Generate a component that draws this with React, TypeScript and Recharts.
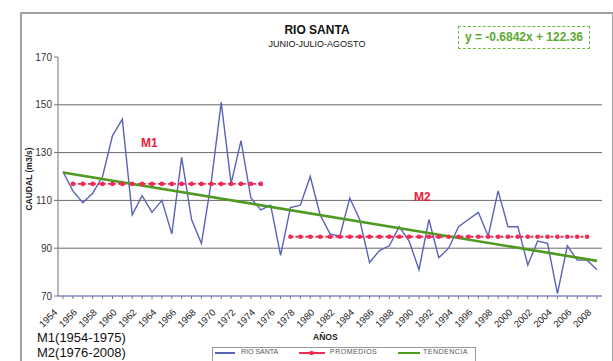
import React from 'react';
import { LineChart, Line, XAxis, YAxis, ReferenceLine } from 'recharts';

// años (eje x)
const years = [
  1954, 1955, 1956, 1957, 1958, 1959, 1960, 1961, 1962, 1963, 1964,
  1965, 1966, 1967, 1968, 1969, 1970, 1971, 1972, 1973, 1974, 1975,
  1976, 1977, 1978, 1979, 1980, 1981, 1982, 1983, 1984, 1985, 1986,
  1987, 1988, 1989, 1990, 1991, 1992, 1993, 1994, 1995, 1996, 1997,
  1998, 1999, 2000, 2001, 2002, 2003, 2004, 2005, 2006, 2007, 2008
];

// caudal medio jun-jul-ago (m3/s)
const caudal = [
  122, 114, 109, 113, 120, 137, 144, 104, 112, 105, 110,
  96, 128, 102, 92, 118, 151, 117, 135, 111, 106, 108,
  87, 107, 108, 120, 104, 96, 95, 111, 102, 84, 89,
  91, 99, 93, 81, 102, 86, 90, 99, 102, 105, 95,
  114, 99, 99, 83, 93, 92, 71, 91, 85, 85, 81
];

// promedios: [desde, hasta, valor]
const promedioM1 = [1955, 1974, 116.9];
const promedioM2 = [1977, 2007, 94.8];

// tendencia: extremos de la recta
const tendencia = [121.7, 84.7];

const yTicks = [70, 90, 110, 130, 150, 170];
const gridLines = [90, 110, 130, 150];

const data = years.map((year, i) => ({
  year,
  caudal: caudal[i],
  m1: year >= promedioM1[0] && year <= promedioM1[1] ? promedioM1[2] : null,
  m2: year >= promedioM2[0] && year <= promedioM2[1] ? promedioM2[2] : null,
  trend: i === 0 ? tendencia[0] : i === years.length - 1 ? tendencia[1] : null
}));

const FONT = '"Liberation Sans", Arial, sans-serif';

const renderYearTick = (props: any) => {
  const { x, y, payload } = props;
  if (Number(payload.value) % 2 !== 0) return <g />;
  return (
    <g transform={`translate(${x - 5},${y + 12})`}>
      <text
        x={0}
        y={0}
        transform="rotate(-45)"
        textAnchor="end"
        fontSize={9.5}
        fontFamily={FONT}
        fill="#222"
      >
        {payload.value}
      </text>
    </g>
  );
};

const RedDot = (props: any) => {
  const { cx, cy, value } = props;
  if (value == null) return null;
  return <circle cx={cx} cy={cy} r={2.3} fill="#ee2a55" />;
};

export default function App() {
  return (
    <div
      style={{
        position: 'absolute',
        left: 0,
        top: 0,
        width: 613,
        height: 361,
        background: '#fff',
        overflow: 'hidden',
        fontFamily: FONT
      }}
    >
      <div
        style={{
          position: 'absolute',
          left: 20,
          top: 12,
          width: 590,
          height: 370,
          border: '2px solid #a0a0a0'
        }}
      />
      <div style={{ position: 'absolute', left: 0, top: 0 }}>
        <LineChart
          width={613}
          height={361}
          data={data}
          margin={{ top: 57, right: 11, bottom: 25, left: 28 }}
        >
          {gridLines.map((v) => (
            <ReferenceLine key={v} y={v} stroke="#6a6a6a" strokeWidth={1} />
          ))}
          <XAxis
            dataKey="year"
            type="category"
            interval={0}
            height={40}
            padding={{ left: 5, right: 5 }}
            tick={renderYearTick}
            tickSize={3}
            axisLine={{ stroke: '#8088c8', strokeWidth: 1.5 }}
            tickLine={{ stroke: '#777' }}
          />
          <YAxis
            width={30}
            domain={[70, 170]}
            ticks={yTicks}
            interval={0}
            tickSize={4}
            tick={{ fontSize: 10, fill: '#333', fontFamily: FONT }}
            axisLine={{ stroke: '#777' }}
            tickLine={{ stroke: '#777' }}
          />
          <Line
            dataKey="caudal"
            stroke="#5a62b8"
            strokeWidth={1.4}
            dot={false}
            isAnimationActive={false}
          />
          <Line
            dataKey="m1"
            stroke="#ee2a55"
            strokeWidth={1.8}
            strokeDasharray="3 2"
            dot={<RedDot />}
            isAnimationActive={false}
          />
          <Line
            dataKey="m2"
            stroke="#ee2a55"
            strokeWidth={1.8}
            strokeDasharray="3 2"
            dot={<RedDot />}
            isAnimationActive={false}
          />
          <Line
            dataKey="trend"
            stroke="#4f9a22"
            strokeWidth={2.6}
            dot={false}
            connectNulls
            isAnimationActive={false}
          />
        </LineChart>
      </div>

      <div style={{ position: 'absolute', left: 217, top: 23, width: 200, textAlign: 'center', fontSize: 12, fontWeight: 'bold', color: '#111' }}>
        RIO SANTA
      </div>
      <div style={{ position: 'absolute', left: 217, top: 39, width: 200, textAlign: 'center', fontSize: 9, color: '#111' }}>
        JUNIO-JULIO-AGOSTO
      </div>
      <div
        style={{
          position: 'absolute',
          left: 458,
          top: 26,
          width: 130,
          height: 21,
          border: '1px dashed #6cbb45',
          color: '#5aaa32',
          fontSize: 12,
          fontWeight: 'bold',
          lineHeight: '21px',
          textAlign: 'center'
        }}
      >
        y = -0.6842x + 122.36
      </div>
      <div
        style={{
          position: 'absolute',
          left: 29,
          top: 179,
          transform: 'translate(0, -50%) rotate(-90deg)',
          transformOrigin: 'center',
          fontSize: 8.5,
          fontWeight: 'bold',
          color: '#222',
          whiteSpace: 'nowrap',
          width: 0,
          display: 'flex',
          justifyContent: 'center'
        }}
      >
        <span>CAUDAL (m3/s)</span>
      </div>
      <div style={{ position: 'absolute', left: 141, top: 136, fontSize: 12, fontWeight: 'bold', color: '#e8203c' }}>
        M1
      </div>
      <div style={{ position: 'absolute', left: 414, top: 190, fontSize: 12, fontWeight: 'bold', color: '#e8203c' }}>
        M2
      </div>
      <div style={{ position: 'absolute', left: 313, top: 332, fontSize: 8.5, fontWeight: 'bold', color: '#222' }}>
        AÑOS
      </div>
      <div style={{ position: 'absolute', left: 37, top: 330, fontSize: 13, color: '#111', lineHeight: '15px' }}>
        M1(1954-1975)
        <br />
        M2(1976-2008)
      </div>
      <div
        style={{
          position: 'absolute',
          left: 212,
          top: 347,
          width: 262,
          height: 20,
          border: '1px solid #999',
          fontSize: 7,
          color: '#555'
        }}
      >
        <div style={{ position: 'absolute', left: 2, top: 4, width: 20, height: 1.5, background: '#5a62b8' }} />
        <div style={{ position: 'absolute', left: 28, top: 0 }}>RIO SANTA</div>
        <div style={{ position: 'absolute', left: 86, top: 4, width: 26, height: 1.5, background: '#ee2a55' }} />
        <div style={{ position: 'absolute', left: 96, top: 2.5, width: 4.5, height: 4.5, borderRadius: '50%', background: '#ee2a55' }} />
        <div style={{ position: 'absolute', left: 117, top: 0, letterSpacing: 0.5 }}>PROMEDIOS</div>
        <div style={{ position: 'absolute', left: 185, top: 3.5, width: 22, height: 2, background: '#4f9a22' }} />
        <div style={{ position: 'absolute', left: 210, top: 0, letterSpacing: 0.5 }}>TENDENCIA</div>
      </div>
    </div>
  );
}
